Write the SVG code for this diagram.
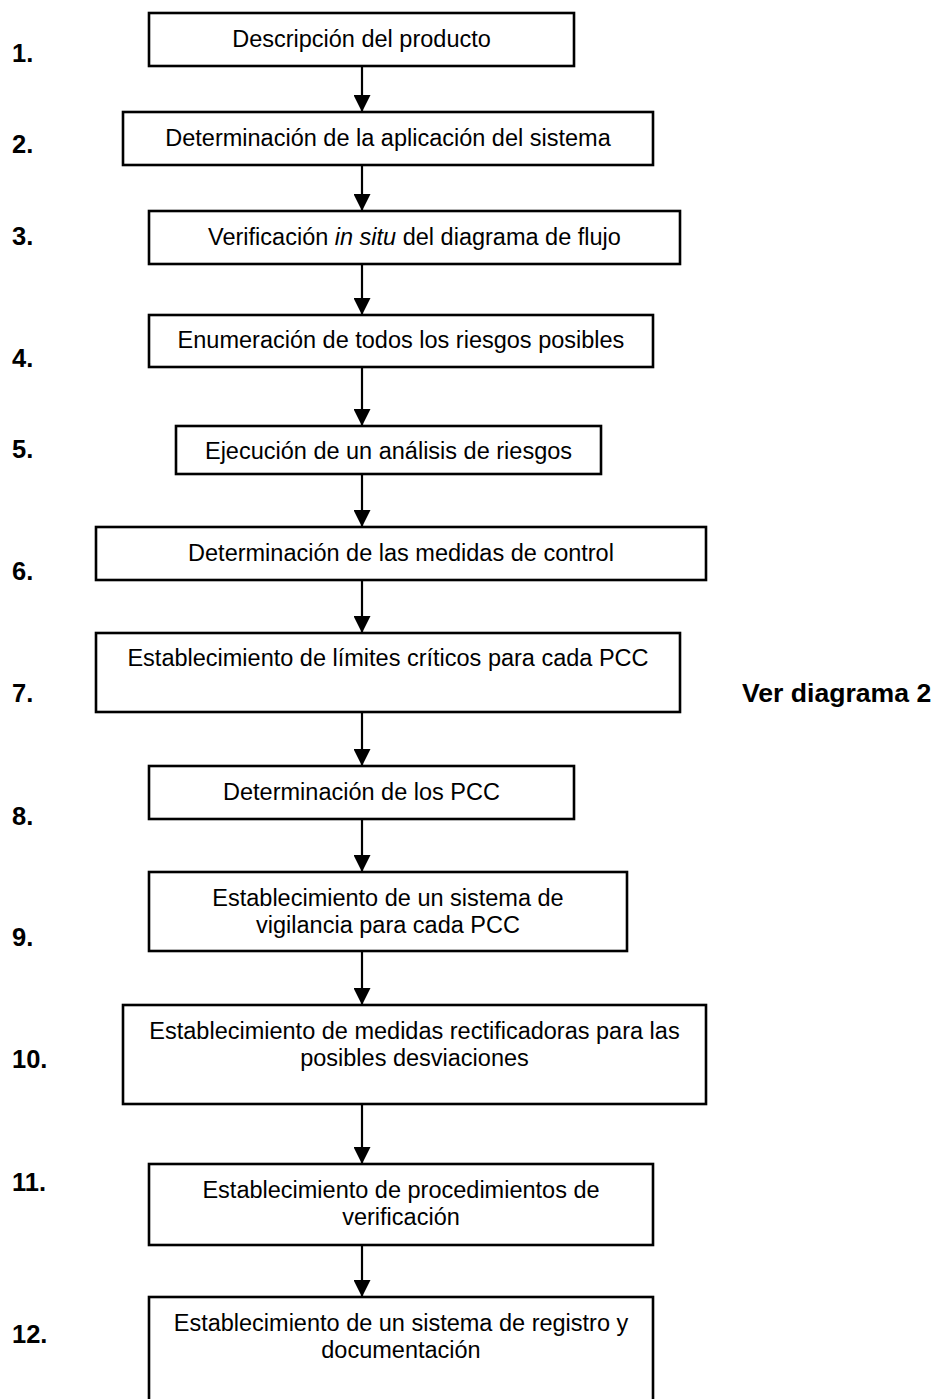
<svg xmlns="http://www.w3.org/2000/svg" width="935" height="1399" viewBox="0 0 935 1399">
<style>
.box{fill:#fff;stroke:#000;stroke-width:2.6}
.t{font-family:"Liberation Sans",Arial,sans-serif;font-size:23.5px;fill:#000;text-anchor:middle}
.n{font-family:"Liberation Sans",Arial,sans-serif;font-size:25.5px;font-weight:bold;fill:#000}
.c{stroke:#000;stroke-width:2.2;fill:none;marker-end:url(#ah)}
</style>
<defs>
<marker id="ah" markerUnits="userSpaceOnUse" markerWidth="17" markerHeight="17" viewBox="0 0 17 17" refX="17" refY="8.5" orient="auto">
<path d="M0,0 L17,8.5 L0,17 z" fill="#000"/>
</marker>
</defs>
<rect width="935" height="1399" fill="#fff"/>
<g id="connectors">
<line class="c" x1="362" y1="66" x2="362" y2="112"/>
<line class="c" x1="362" y1="165" x2="362" y2="211"/>
<line class="c" x1="362" y1="264" x2="362" y2="315"/>
<line class="c" x1="362" y1="367" x2="362" y2="426"/>
<line class="c" x1="362" y1="474" x2="362" y2="527"/>
<line class="c" x1="362" y1="580" x2="362" y2="633"/>
<line class="c" x1="362" y1="712" x2="362" y2="766"/>
<line class="c" x1="362" y1="819" x2="362" y2="872"/>
<line class="c" x1="362" y1="951" x2="362" y2="1005"/>
<line class="c" x1="362" y1="1104" x2="362" y2="1164"/>
<line class="c" x1="362" y1="1245" x2="362" y2="1297"/>
</g>
<g id="node1"><rect class="box" x="149" y="13" width="425" height="53"/><text class="t" x="361.5" y="47">Descripción del producto</text></g>
<g id="node2"><rect class="box" x="123" y="112" width="530" height="53"/><text class="t" x="388" y="146">Determinación de la aplicación del sistema</text></g>
<g id="node3"><rect class="box" x="149" y="211" width="531" height="53"/><text class="t" x="414.5" y="245">Verificación <tspan font-style="italic">in situ</tspan> del diagrama de flujo</text></g>
<g id="node4"><rect class="box" x="149" y="315" width="504" height="52"/><text class="t" x="401" y="348">Enumeración de todos los riesgos posibles</text></g>
<g id="node5"><rect class="box" x="176" y="426" width="425" height="48"/><text class="t" x="388.5" y="459">Ejecución de un análisis de riesgos</text></g>
<g id="node6"><rect class="box" x="96" y="527" width="610" height="53"/><text class="t" x="401" y="561">Determinación de las medidas de control</text></g>
<g id="node7"><rect class="box" x="96" y="633" width="584" height="79"/><text class="t" x="388" y="666">Establecimiento de límites críticos para cada PCC</text></g>
<g id="node8"><rect class="box" x="149" y="766" width="425" height="53"/><text class="t" x="361.5" y="800">Determinación de los PCC</text></g>
<g id="node9"><rect class="box" x="149" y="872" width="478" height="79"/><text class="t" x="388" y="906">Establecimiento de un sistema de</text><text class="t" x="388" y="933">vigilancia para cada PCC</text></g>
<g id="node10"><rect class="box" x="123" y="1005" width="583" height="99"/><text class="t" x="414.5" y="1039">Establecimiento de medidas rectificadoras para las</text><text class="t" x="414.5" y="1066">posibles desviaciones</text></g>
<g id="node11"><rect class="box" x="149" y="1164" width="504" height="81"/><text class="t" x="401" y="1198">Establecimiento de procedimientos de</text><text class="t" x="401" y="1225">verificación</text></g>
<g id="node12"><rect class="box" x="149" y="1297" width="504" height="140"/><text class="t" x="401" y="1331">Establecimiento de un sistema de registro y</text><text class="t" x="401" y="1358">documentación</text></g>
<g id="numbers">
<text class="n" x="12" y="62">1.</text>
<text class="n" x="12" y="153">2.</text>
<text class="n" x="12" y="245">3.</text>
<text class="n" x="12" y="367">4.</text>
<text class="n" x="12" y="458">5.</text>
<text class="n" x="12" y="580">6.</text>
<text class="n" x="12" y="702">7.</text>
<text class="n" x="12" y="825">8.</text>
<text class="n" x="12" y="946">9.</text>
<text class="n" x="12" y="1068">10.</text>
<text class="n" x="12" y="1191">11.</text>
<text class="n" x="12" y="1343">12.</text>
</g>
<g id="note"><text class="n" x="742" y="702" style="font-size:26.6px">Ver diagrama 2</text></g>
</svg>
